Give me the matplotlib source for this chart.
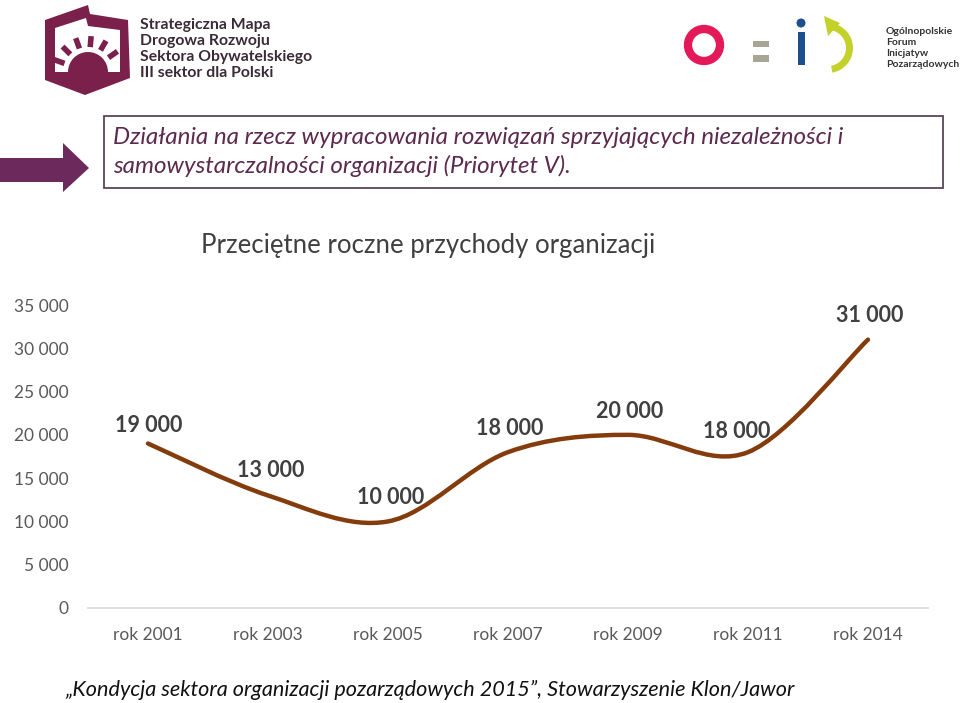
import matplotlib
matplotlib.use("Agg")
import matplotlib.pyplot as plt
from matplotlib.path import Path
from matplotlib.patches import PathPatch, Rectangle, Polygon, Circle, Wedge
import numpy as np

categories = ["rok 2001", "rok 2003", "rok 2005", "rok 2007", "rok 2009", "rok 2011", "rok 2014"]
values = [19000, 13000, 10000, 18000, 20000, 18000, 31000]
value_labels = ["19 000", "13 000", "10 000", "18 000", "20 000", "18 000", "31 000"]
yticks = [0, 5000, 10000, 15000, 20000, 25000, 30000, 35000]
ytick_labels = ["0", "5 000", "10 000", "15 000", "20 000", "25 000", "30 000", "35 000"]

W, H = 960, 703
fig = plt.figure(figsize=(W / 100, H / 100), dpi=100)
fig.patch.set_facecolor("white")

FONT = ["Lato", "DejaVu Sans"]
GRAY = "#595959"
LABEL = "#404040"
LINE = "#843C0C"

# main chart axes
ax = fig.add_axes([88 / W, (H - 608) / H, 840 / W, (608 - 305) / H])
ax.set_xlim(-0.5, len(categories) - 0.5)
ax.set_ylim(0, 35000)
for s in ["top", "right", "left"]:
    ax.spines[s].set_visible(False)
ax.spines["bottom"].set_color("#d9d9d9")
ax.spines["bottom"].set_linewidth(1.2)
ax.set_yticks(yticks)
ax.set_yticklabels(ytick_labels, fontfamily=FONT, fontsize=12.5, color=GRAY)
ax.set_xticks(range(len(categories)))
ax.set_xticklabels(categories, fontfamily=FONT, fontsize=12.5, color=GRAY)
ax.tick_params(axis="both", length=0)
ax.tick_params(axis="y", pad=14)
ax.tick_params(axis="x", pad=14)

# smooth line (Catmull-Rom -> cubic Bezier) through data points
x = np.arange(len(values), dtype=float)
y = np.array(values, dtype=float)
pts = np.column_stack([x, y])
verts = [tuple(pts[0])]
codes = [Path.MOVETO]
n = len(pts)
for i in range(n - 1):
    p0 = pts[i - 1] if i > 0 else pts[i]
    p1 = pts[i]
    p2 = pts[i + 1]
    p3 = pts[i + 2] if i + 2 < n else pts[i + 1]
    c1 = p1 + (p2 - p0) / 6.0
    c2 = p2 - (p3 - p1) / 6.0
    verts += [tuple(c1), tuple(c2), tuple(p2)]
    codes += [Path.CURVE4] * 3
ax.add_patch(PathPatch(Path(verts, codes), facecolor="none", edgecolor=LINE,
                       lw=3.2, capstyle="round", joinstyle="round", zorder=3))

label_offsets = [(1, -18), (3, -25), (3, -24), (2, -24), (2, -23), (-11, -21), (2, -24)]
for xi, yi, lab, (dx, dy) in zip(x, y, value_labels, label_offsets):
    ax.annotate(lab, (xi, yi), xytext=(dx * 0.72, -dy * 0.72), textcoords="offset points",
                ha="center", va="center", fontfamily=FONT, fontsize=15.5,
                fontweight="bold", color=LABEL, zorder=4)

# chart title
fig.text(428 / W, 1 - 245 / H, "Przeciętne roczne przychody organizacji",
         ha="center", va="center", fontfamily=FONT, fontsize=18.5, color="#404040")

# overlay for decorations (pixel coords)
ov = fig.add_axes([0, 0, 1, 1], zorder=-1)
ov.set_xlim(0, W)
ov.set_ylim(H, 0)
ov.axis("off")

PURPLE = "#5c2a4e"
# header box
ov.add_patch(Rectangle((104, 116), 839, 72, facecolor="white", edgecolor="#5a4656", lw=1.3))
ov.text(113, 137, "Działania na rzecz wypracowania rozwiązań sprzyjających niezależności i",
        ha="left", va="center", fontfamily=FONT, fontsize=17.4, style="italic", color=PURPLE)
ov.text(113, 166, "samowystarczalności organizacji (Priorytet V).",
        ha="left", va="center", fontfamily=FONT, fontsize=17.4, style="italic", color=PURPLE)

# arrow on the left
ov.add_patch(Polygon([(0, 158), (63, 158), (63, 143), (89, 168), (63, 192), (63, 182), (0, 182)],
                     closed=True, facecolor="#6b2a5b", edgecolor="none"))

# left logo
MAROON = "#7b1f4b"
ov.add_patch(Polygon([(45, 20), (88, 5), (90, 14), (128, 20), (130, 78), (85, 95), (45, 80)],
                     closed=True, facecolor=MAROON, edgecolor="none"))
ov.add_patch(Polygon([(55, 28), (86, 18), (88, 26), (120, 30), (120, 72), (55, 72)],
                     closed=True, facecolor="white", edgecolor="none"))
ov.add_patch(Wedge((88, 72), 20, 180, 360, facecolor=MAROON, edgecolor="none"))
for ang in [160, 135, 110, 85, 60, 35]:
    a = np.deg2rad(ang)
    r1, r2 = 25, 36
    ov.plot([88 + r1 * np.cos(a), 88 + r2 * np.cos(a)], [72 - r1 * np.sin(a), 72 - r2 * np.sin(a)],
            color=MAROON, lw=4, solid_capstyle="butt")
for i, t in enumerate(["Strategiczna Mapa", "Drogowa Rozwoju", "Sektora Obywatelskiego", "III sektor dla Polski"]):
    ov.text(140, 25 + i * 16, t, ha="left", va="center", fontfamily=["Lato", "DejaVu Sans"],
            fontsize=11.3, fontweight="bold", color="#3b2b36")

# right logo (OFIP)
ov.add_patch(Circle((704, 45), 16, facecolor="none", edgecolor="#e4195a", lw=6))
ov.add_patch(Rectangle((753, 41), 16, 6, facecolor="#a8a496", edgecolor="none"))
ov.add_patch(Rectangle((753, 55), 16, 7, facecolor="#a8a496", edgecolor="none"))
ov.add_patch(Circle((801, 23), 4.5, facecolor="#1f4e8c", edgecolor="none"))
ov.add_patch(Rectangle((797.5, 32), 7.5, 33, facecolor="#1f4e8c", edgecolor="none"))
ov.add_patch(Wedge((828, 48), 25, -80, 80, width=7, facecolor="#c4d12a", edgecolor="none"))
ov.add_patch(Polygon([(824, 16), (840, 23), (828, 36)], closed=True, facecolor="#c4d12a", edgecolor="none"))
for i, t in enumerate(["Ogólnopolskie", "Forum", "Inicjatyw", "Pozarządowych"]):
    ov.text(886, 32 + i * 10.8, t, ha="left", va="center", fontfamily=["Lato", "DejaVu Sans"],
            fontsize=7.5, fontweight="bold", color="#333333")

# footer
ov.text(65, 690, "„Kondycja sektora organizacji pozarządowych 2015”, Stowarzyszenie Klon/Jawor",
        ha="left", va="center", fontfamily=FONT, fontsize=15.6, style="italic", color="#111111")

fig.savefig("out.png", dpi=100)
